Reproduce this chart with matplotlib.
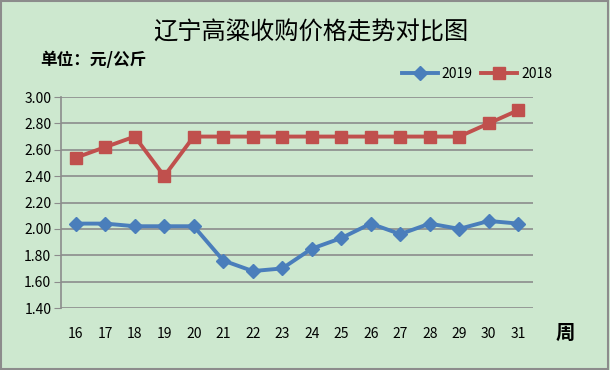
import matplotlib
matplotlib.use("Agg")
import matplotlib.pyplot as plt
from matplotlib.patches import Rectangle

plt.rcParams['font.family'] = ['Noto Sans CJK SC', 'DejaVu Sans']

weeks = ['16', '17', '18', '19', '20', '21', '22', '23',
         '24', '25', '26', '27', '28', '29', '30', '31']
price_2019 = [2.04, 2.04, 2.02, 2.02, 2.02, 1.76, 1.68, 1.70,
              1.85, 1.93, 2.04, 1.96, 2.04, 2.00, 2.06, 2.04]
price_2018 = [2.54, 2.62, 2.70, 2.40, 2.70, 2.70, 2.70, 2.70,
              2.70, 2.70, 2.70, 2.70, 2.70, 2.70, 2.80, 2.90]
y_ticks = [1.40, 1.60, 1.80, 2.00, 2.20, 2.40, 2.60, 2.80, 3.00]

bg = '#cde8cf'
blue = '#4a7ebb'
red = '#c0504d'

fig = plt.figure(figsize=(6.1, 3.7), dpi=100, facecolor=bg)
fig.patches.append(Rectangle((0.002, 0.004), 0.994, 0.992, transform=fig.transFigure,
                             fill=False, edgecolor='#8c8c8c', linewidth=1.5))

ax = fig.add_axes([61 / 610, 1 - 308 / 370, (533 - 61) / 610, (308 - 97) / 370])
ax.set_facecolor(bg)

x = range(len(weeks))
ax.plot(x, price_2019, color=blue, linewidth=2.8, marker='D', markersize=7,
        label='2019', zorder=3)
ax.plot(x, price_2018, color=red, linewidth=2.8, marker='s', markersize=9,
        label='2018', zorder=3)

ax.set_xlim(-0.5, len(weeks) - 0.5)
ax.set_ylim(1.40, 3.00)
ax.set_yticks(y_ticks)
ax.set_yticklabels(['%.2f' % v for v in y_ticks], fontsize=10)
ax.set_xticks(list(x))
ax.set_xticklabels(weeks, fontsize=10)
ax.yaxis.grid(True, color='#8c8c8c', linewidth=1.2)
ax.set_axisbelow(True)
for s in ['top', 'right', 'bottom']:
    ax.spines[s].set_visible(False)
ax.spines['left'].set_color('#8c8c8c')
ax.spines['left'].set_linewidth(1.2)
ax.tick_params(axis='x', length=0, pad=14)
ax.tick_params(axis='y', length=5, color='#8c8c8c', pad=2)

fig.text(311 / 610, 1 - 33 / 370, '辽宁高粱收购价格走势对比图', fontsize=17.5,
         fontweight='medium', ha='center', va='center')
fig.text(40 / 610, 1 - 60 / 370, '单位：元/公斤', fontsize=12, fontweight='bold',
         ha='left', va='center')
fig.text(565 / 610, 1 - 333 / 370, '周', fontsize=14, fontweight='bold',
         ha='center', va='center')

ax.legend(loc='center', bbox_to_anchor=(477 / 610, 1 - 74 / 370),
          bbox_transform=fig.transFigure, ncol=2, frameon=False, fontsize=10,
          handlelength=2.6, columnspacing=0.6, handletextpad=0.3)

fig.savefig('out.png', dpi=100, facecolor=bg)
